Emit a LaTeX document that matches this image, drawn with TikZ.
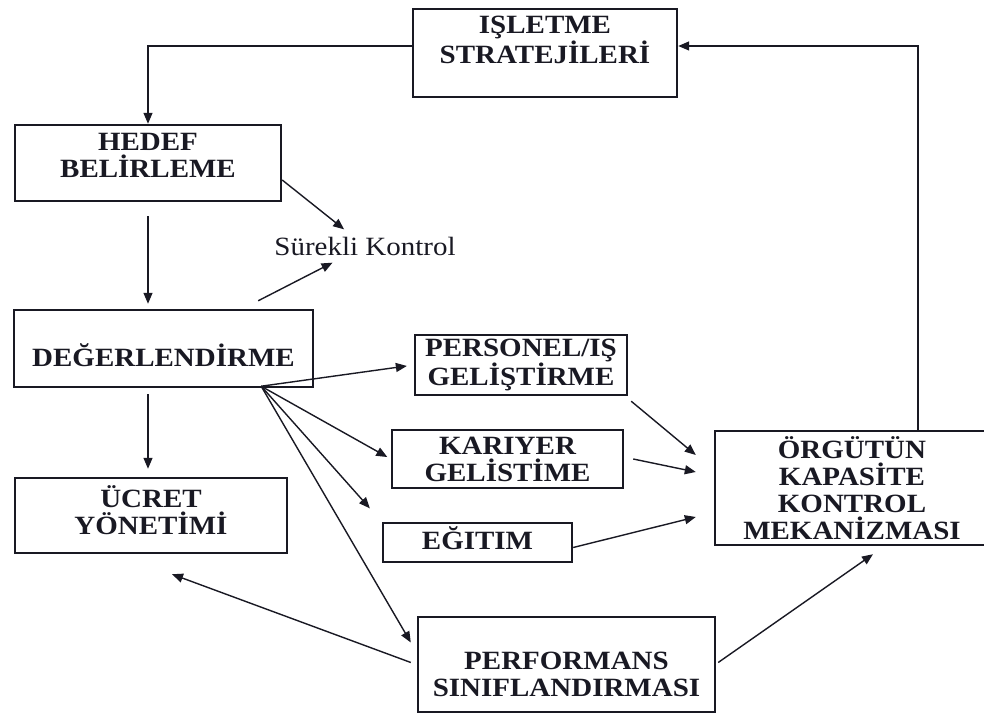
\documentclass[tikz,border=0pt]{standalone}
\usepackage{fontspec}
\setmainfont{Liberation Serif}[FakeStretch=1.1]
\usepackage{tikz}
\usetikzlibrary{arrows.meta, calc}
\definecolor{mydark}{RGB}{25,25,35}
\tikzset{
  box/.style={rectangle, draw=mydark, line width=1.4pt, inner sep=0pt},
  boxtext/.style={align=center, font=\fontsize{15}{15.4}\selectfont\bfseries,
    text=mydark, inner sep=0pt},
  note/.style={font=\fontsize{15}{16}\selectfont, text=mydark, inner sep=4pt},
  arrow/.style={-{Triangle[length=2.2mm, width=1.8mm]}, line width=0.8pt, color=mydark}
}

\begin{document}
\begin{tikzpicture}[x=0.02cm, y=-0.02cm]
  \useasboundingbox (0,0) rectangle (984,716);

  % Strategy and goals
  \node[box, minimum width=5.28cm, minimum height=1.76cm,
    label={[boxtext, yshift=0.26cm]center:IŞLETME\\STRATEJİLERİ}] (isl) at (545,53) {};
  \node[box, minimum width=5.32cm, minimum height=1.52cm,
    label={[boxtext, yshift=0.16cm]center:HEDEF\\BELİRLEME}] (hedef) at (148,163) {};
  \node[note] (sk) at (365,246) {Sürekli Kontrol};

  % Evaluation and pay
  \node[box, minimum width=5.98cm, minimum height=1.54cm,
    label={[boxtext, yshift=-0.13cm]center:DEĞERLENDİRME}] (deg) at (163.5,348.5) {};
  \node[box, minimum width=5.44cm, minimum height=1.5cm,
    label={[boxtext, yshift=0.1cm]center:ÜCRET\\YÖNETİMİ}] (ucret) at (151,515.5) {};

  % Development
  \node[box, minimum width=4.24cm, minimum height=1.2cm,
    label={[boxtext]center:PERSONEL/IŞ\\GELİŞTİRME}] (pers) at (521,365) {};
  \node[box, minimum width=4.62cm, minimum height=1.16cm,
    label={[boxtext]center:KARIYER\\GELİSTİME}] (kar) at (507.5,459) {};
  \node[box, minimum width=3.78cm, minimum height=0.78cm,
    label={[boxtext, yshift=0.09cm]center:EĞITIM}] (egt) at (477.5,542.5) {};

  % Control and classification
  \node[box, minimum width=5.9cm, minimum height=2.28cm,
    label={[boxtext, xshift=-0.21cm]center:ÖRGÜTÜN\\KAPASİTE\\KONTROL\\MEKANİZMASI}] (org) at (862.5,488) {};
  \node[box, minimum width=5.94cm, minimum height=1.9cm,
    label={[boxtext, yshift=-0.2cm]center:PERFORMANS\\SINIFLANDIRMASI}] (perf) at (566.5,664.5) {};

  % Main chain
  \draw[arrow] ($(isl.west)+(0,-7)$) -| (hedef);
  \draw[arrow] ($(hedef.south)+(0,14)$) -- ($(hedef.south |- deg.north)+(0,-5)$);
  \draw[arrow] ($(hedef.south |- deg.south)+(0,6)$) -- ($(hedef.south |- ucret.north)+(0,-8)$);
  \draw[arrow] ($(hedef.east)+(0,17)$) -- (sk);
  \draw[arrow] ($(deg.north east)+(-56,-8)$) -- (sk);

  % Fan out of evaluation
  \coordinate (fan) at ($(deg.south east)+(-53,-2)$);
  \draw[arrow, shorten >=1.4mm] (fan) -- (pers.west);
  \draw[arrow, shorten >=0.8mm] (fan) -- (kar.west);
  \draw[arrow, shorten >=3.6mm] (fan) -- (egt.north west);
  \draw[arrow] (fan) -- ($(perf.west)+(-6,-22)$);

  % Into the control box
  \draw[arrow] ($(pers.south east)+(3,5)$) -- ($(org.west)+(-18,-33)$);
  \draw[arrow] ($(kar.east)+(9,0)$) -- ($(org.west)+(-18,-16)$);
  \draw[arrow] ($(egt.east)+(0,5)$) -- ($(org.west)+(-18,29)$);
  \draw[arrow] ($(perf.west)+(-6,-2)$) -- ($(ucret.south)+(21,20)$);
  \draw[arrow] ($(perf.east)+(2,-2)$) -- ($(org.south)+(10.5,8)$);

  % Feedback to strategy
  \draw[arrow] ($(org.north)+(55.5,0)$) |- ($(isl.east)+(0,-7)$);
\end{tikzpicture}
\end{document}
